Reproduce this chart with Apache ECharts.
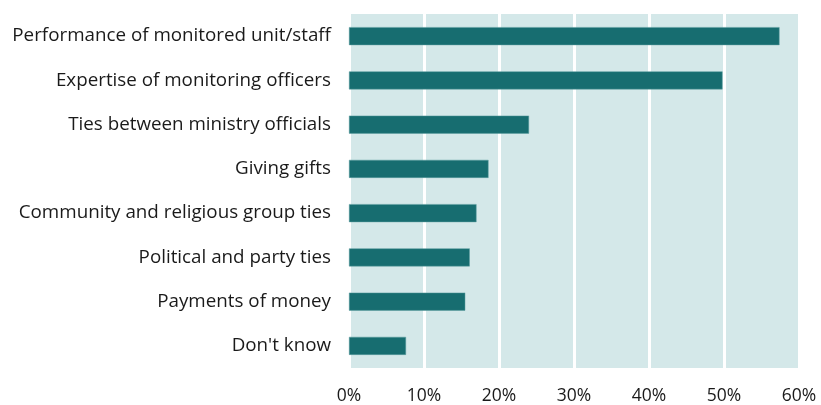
<!DOCTYPE html>
<html><head><meta charset="utf-8">
<script src="https://cdn.jsdelivr.net/npm/echarts@6/dist/echarts.min.js"></script>
<style>html,body{margin:0;padding:0;background:#fff}#c{width:821px;height:405px}</style>
</head><body><div id="c"></div>
<script>
const categories = ["Performance of monitored unit/staff","Expertise of monitoring officers","Ties between ministry officials","Giving gifts","Community and religious group ties","Political and party ties","Payments of money","Don't know"];
const values = [57.4, 49.8, 24.0, 18.6, 17.0, 16.1, 15.5, 7.6];
const tickLabels = ["0%","10%","20%","30%","40%","50%","60%"];

const chart = echarts.init(document.getElementById('c'));
chart.setOption({
  animation:false,
  grid:{left:349,right:22,top:14,bottom:37,containLabel:false,show:true,backgroundColor:'#d4e8e9',borderWidth:0},
  xAxis:{type:'value',min:0,max:60,interval:10,
    axisLine:{show:false},axisTick:{show:false},
    splitLine:{show:true,lineStyle:{color:'#ffffff',width:3}},
    axisLabel:{color:'#1a1a1a',fontFamily:'Open Sans',fontSize:17.5,margin:19,
      formatter:(v)=>tickLabels[Math.round(v/10)]}},
  yAxis:{type:'category',data:categories,inverse:true,
    axisLine:{show:false},axisTick:{show:false},
    axisLabel:{color:'#1a1a1a',fontFamily:'Open Sans',fontSize:18.8,margin:18}},
  series:[{type:'bar',data:values,barWidth:18,
    itemStyle:{color:'#176d70',borderColor:'#5a9c9e',borderWidth:0.5}}]
});
</script></body></html>
